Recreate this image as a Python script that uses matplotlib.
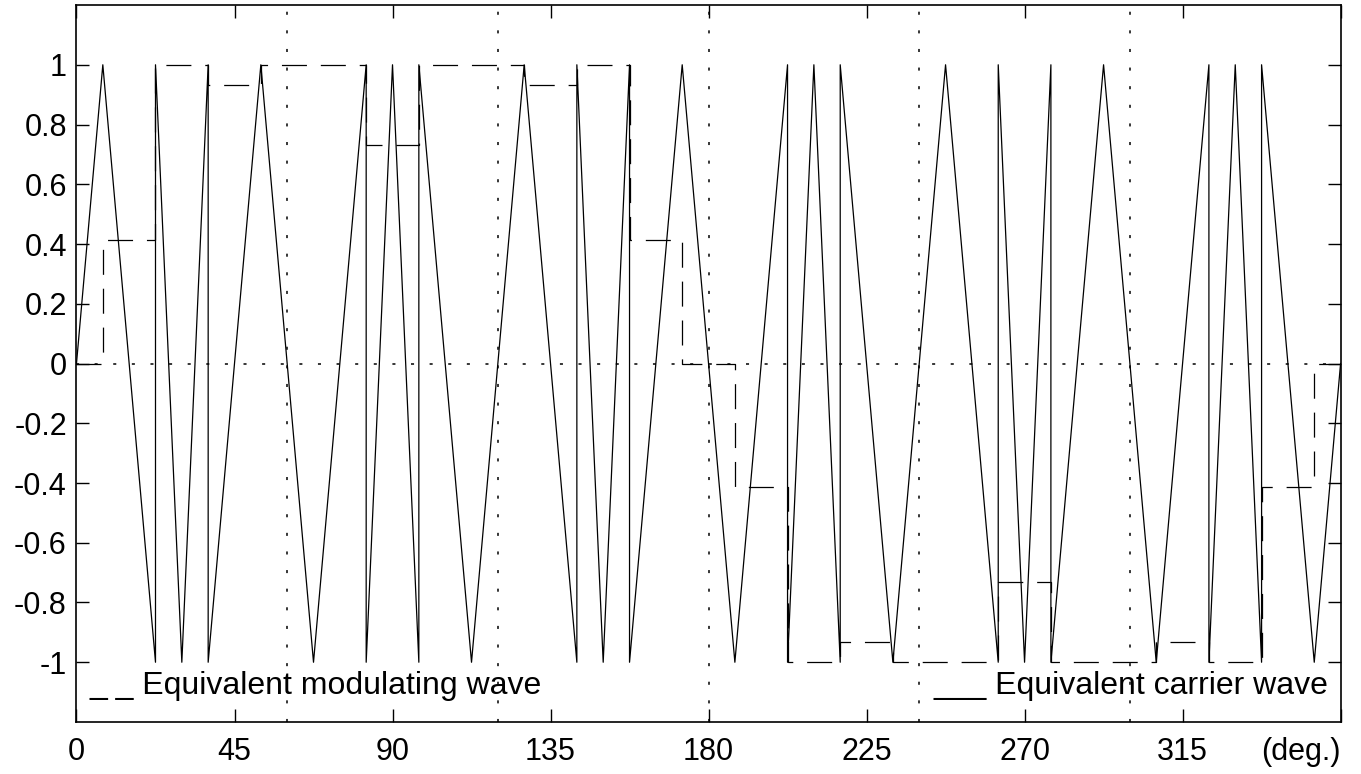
import matplotlib
matplotlib.use('Agg')
import matplotlib.pyplot as plt

plt.rcParams['font.family'] = ['Liberation Sans', 'DejaVu Sans']
plt.rcParams['lines.scale_dashes'] = False

# equivalent carrier wave vertices (deg, value)
carrier_x = [0, 7.5, 22.5, 22.5, 30, 37.5, 37.5, 52.5, 67.5, 82.5, 82.5, 90, 97.5, 97.5,
             112.5, 127.5, 142.5, 142.5, 150, 157.5, 157.5, 172.5, 187.5, 202.5, 202.5,
             210, 217.5, 217.5, 232.5, 247.5, 262.5, 262.5, 270, 277.5, 277.5, 292.5,
             307.5, 322.5, 322.5, 330, 337.5, 337.5, 352.5, 360]
carrier_y = [0, 1, -1, 1, -1, 1, -1, 1, -1, 1, -1, 1, -1, 1,
             -1, 1, -1, 1, -1, 1, -1, 1, -1, 1, -1,
             1, -1, 1, -1, 1, -1, 1, -1, 1, -1, 1,
             -1, 1, -1, 1, -1, 1, -1, 0]

# equivalent modulating wave (step start, level)
mod_x = [0, 7.5, 22.5, 37.5, 52.5, 82.5, 97.5, 127.5, 142.5, 157.5, 172.5, 187.5,
         202.5, 217.5, 232.5, 262.5, 277.5, 307.5, 322.5, 337.5, 352.5, 360]
mod_y = [0, 0.414, 1, 0.933, 1, 0.732, 1, 0.933, 1, 0.414, 0, -0.414,
         -1, -0.933, -1, -0.732, -1, -0.933, -1, -0.414, 0, 0]

x_ticks = [0, 45, 90, 135, 180, 225, 270, 315, 360]
x_labels = ['0', '45', '90', '135', '180', '225', '270', '315', '(deg.)']
y_ticks = [-1, -0.8, -0.6, -0.4, -0.2, 0, 0.2, 0.4, 0.6, 0.8, 1]
y_labels = ['-1', '-0.8', '-0.6', '-0.4', '-0.2', '0', '0.2', '0.4', '0.6', '0.8', '1']
ref_x = [60, 120, 180, 240, 300]

fig = plt.figure(figsize=(13.61, 7.74), dpi=100)
ax = fig.add_axes([0.0562, 0.0672, 0.9288, 0.9263])

for xv in ref_x:
    ax.axvline(xv, color='k', lw=1.1, dashes=(2.2, 11.2))
ax.axhline(0, color='k', lw=1.1, dashes=(2.2, 11.2))

ax.plot(carrier_x, carrier_y, color='k', lw=0.9)
ax.plot(mod_x, mod_y, color='k', lw=0.9, drawstyle='steps-post', dashes=(18, 10))

ax.text(3.7, -1.105, '_ _ Equivalent modulating wave', fontsize=23, va='baseline')
ax.text(356.5, -1.105, '___ Equivalent carrier wave', fontsize=23, va='baseline', ha='right')

ax.set_xlim(0, 360)
ax.set_ylim(-1.2, 1.2)
ax.set_xticks(x_ticks)
ax.set_xticklabels(x_labels, fontsize=22)
ax.get_xticklabels()[-1].set_horizontalalignment('right')
ax.set_yticks(y_ticks)
ax.set_yticklabels(y_labels, fontsize=22)
ax.tick_params(direction='in', length=9.5, width=1.0, top=True, right=True)
ax.tick_params(axis='x', pad=11)
ax.tick_params(axis='y', pad=7)
for s in ax.spines.values():
    s.set_linewidth(1.2)

fig.savefig('out.png', dpi=100)
